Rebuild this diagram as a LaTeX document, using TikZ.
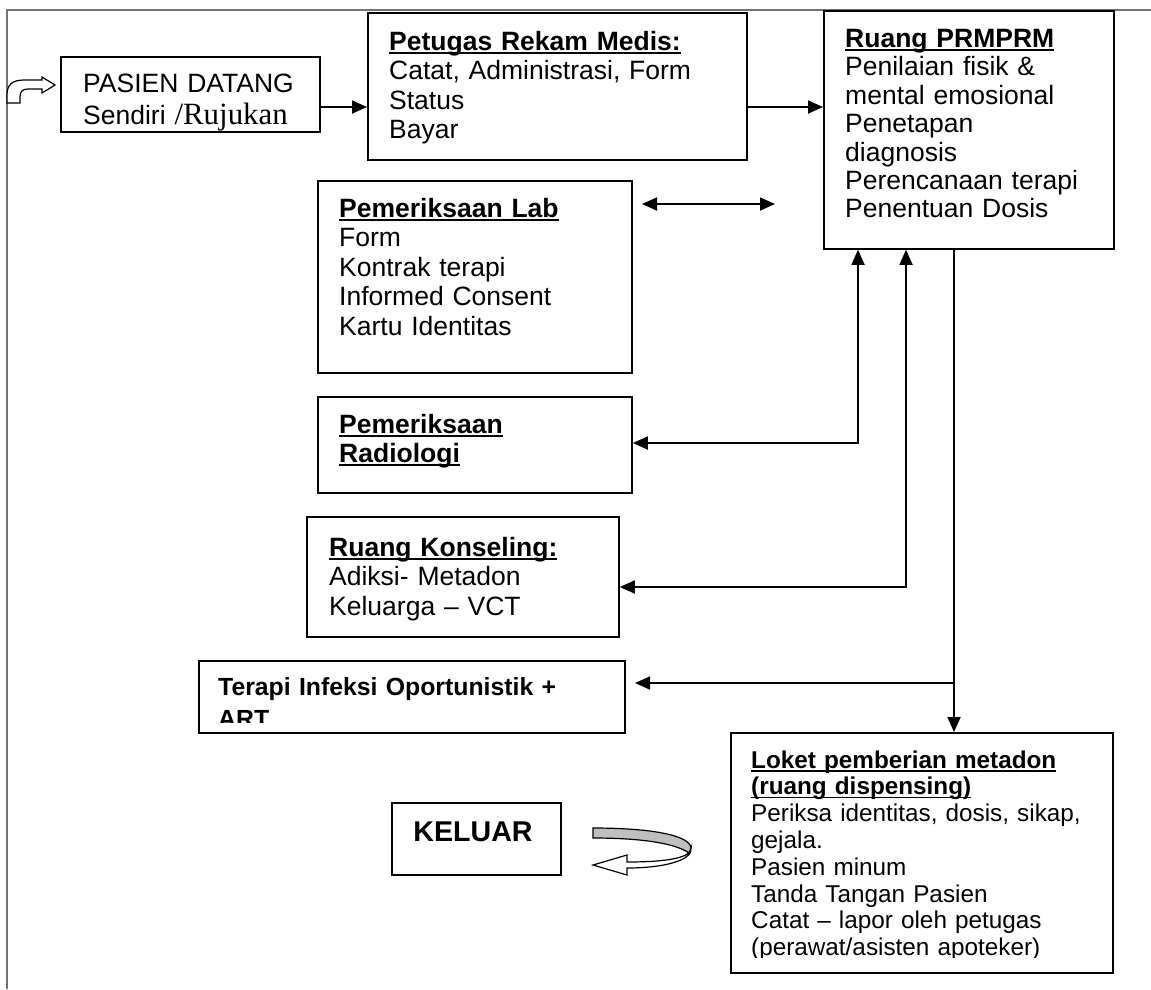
\documentclass[tikz,border=0pt]{standalone}
\usepackage{fontspec}
\setmainfont{Liberation Sans}
\newfontfamily\serifpart{Liberation Serif}
\usetikzlibrary{arrows.meta}
\usetikzlibrary{positioning}

\newcommand{\ulhead}[1]{\leavevmode\setbox0=\hbox{\bfseries #1}\rlap{\rule[-3.5pt]{\wd0}{1.8pt}}\box0}

\begin{document}
\begin{tikzpicture}[x=1pt,y=-1pt]
\tikzset{Box/.style={draw, line width=1.8pt, rectangle, anchor=north west, inner sep=0pt}}
\tikzset{BoxText/.style={
  anchor=base west,
  inner sep=0pt,
  align=left,
  text width=400pt,
  font=\fontsize{26.5}{29.5}\selectfont
}}
\tikzset{SmallText/.style={BoxText, font=\fontsize{24.3}{26.8}\selectfont}}
\tikzset{Flow/.style={line width=1.8pt, -{Triangle[length=15pt,width=13pt]}}}
\tikzset{BothWays/.style={line width=1.8pt,
  {Triangle[length=15pt,width=13pt]}-{Triangle[length=15pt,width=13pt]}}}

\useasboundingbox (0,0) rectangle (1151,989);
\draw[black!55, line width=2pt] (7,989) -- (7,10) -- (1151,10);

% rows and columns of the connectors
\coordinate (rowA) at (0,107);
\coordinate (rowB) at (0,204);
\coordinate (rowC) at (0,443);
\coordinate (rowD) at (0,587);
\coordinate (rowE) at (0,683);
\coordinate (colA) at (858,0);
\coordinate (colB) at (906,0);
\coordinate (colC) at (954,0);
\coordinate (labEnd) at (642,204);
\coordinate (prmEnd) at (775,204);
\coordinate (terapiEnd) at (635,683);

\node[Box, minimum width=259, minimum height=75] (pasien) at (60,56) {};
\node[BoxText, font=\fontsize{26.5}{32}\selectfont] (pasienText) at (83,92)
  {PASIEN DATANG\\Sendiri {\serifpart\fontsize{30.9}{32}\selectfont/Rujukan}};

\node[Box, minimum width=379, minimum height=147] (petugas) at (367,12) {};
\node[BoxText] (petugasText) at (389,50)
  {\ulhead{Petugas Rekam Medis:}\\Catat, Administrasi, Form\\Status\\Bayar};

\node[Box, minimum width=290, minimum height=238] (prm) at (823,10) {};
\node[BoxText, font=\fontsize{26.5}{28.4}\selectfont] (prmText) at (845,47.5)
  {\ulhead{Ruang PRMPRM}\\Penilaian fisik \&\\mental emosional\\Penetapan\\diagnosis\\
   Perencanaan terapi\\Penentuan Dosis};

\node[Box, minimum width=314, minimum height=192] (lab) at (317,180) {};
\node[BoxText] (labText) at (339,217)
  {\ulhead{Pemeriksaan Lab}\\Form\\Kontrak terapi\\Informed Consent\\Kartu Identitas};

\node[Box, minimum width=314, minimum height=96] (radio) at (317,396) {};
\node[BoxText] (radioText) at (339,433)
  {\ulhead{Pemeriksaan}\\\ulhead{Radiologi}};

\node[Box, minimum width=312, minimum height=120] (konseling) at (306,516) {};
\node[BoxText] (konselingText) at (329,556)
  {\ulhead{Ruang Konseling:}\\Adiksi- Metadon\\Keluarga -- VCT};

\begin{scope}
  \clip (198,660) rectangle (624,722);
  \node[BoxText, font=\fontsize{24.8}{32}\selectfont\bfseries] (terapiText) at (218,695)
    {Terapi Infeksi Oportunistik +\\ART};
\end{scope}
\node[Box, minimum width=426, minimum height=72] (terapi) at (198,660) {};

\begin{scope}
  \clip (730,732) rectangle (1112,957);
  \node[SmallText] (loketText) at (751,768)
    {\ulhead{Loket pemberian metadon}\\\ulhead{(ruang dispensing)}\\
     Periksa identitas, dosis, sikap,\\gejala.\\Pasien minum\\Tanda Tangan Pasien\\
     Catat -- lapor oleh petugas\\(perawat/asisten apoteker)};
\end{scope}
\node[Box, minimum width=382, minimum height=240] (loket) at (730,732) {};

\node[Box, minimum width=169, minimum height=72] (keluar) at (391,802) {};
\node[anchor=base, inner sep=0pt, font=\fontsize{28.6}{30}\selectfont\bfseries]
  (keluarText) at (473,841) {KELUAR};

\draw[Flow] (pasien.east |- rowA) -- (petugas.west |- rowA);
\draw[Flow] (petugas.east |- rowA) -- (prm.west |- rowA);
\draw[BothWays] (labEnd) -- (prmEnd);
\draw[BothWays] (radio.east |- rowC) -| (prm.south -| colA);
\draw[BothWays] (konseling.east |- rowD) -| (prm.south -| colB);
\draw[Flow] (prm.south -| colC) -- (loket.north -| colC);
\draw[Flow] (colC |- rowE) -- (terapiEnd);

% entry arrow
\draw[line width=1.2pt, fill=white] (7,103) -- (7,95) .. controls (7,85) and (12,80) .. (24,80)
  -- (42,80) -- (42,77) -- (55,85) -- (42,93) -- (42,89) -- (28,89)
  .. controls (22,89) and (20,92) .. (20,97) -- (20,103) -- cycle;

% turning arrow beside KELUAR
\draw[line width=1.2pt, fill=white] (689,853) .. controls (680,860) and (655,862) .. (627,862)
  -- (627,855) -- (593,865) -- (627,875) -- (627,868)
  .. controls (665,868) and (693,860) .. (691,848) -- cycle;
\draw[line width=1.2pt, fill=black!25] (593,828) .. controls (650,828) and (690,835) .. (691,848)
  -- (689,853) .. controls (675,843) and (640,838) .. (593,838) -- cycle;
\end{tikzpicture}
\end{document}
